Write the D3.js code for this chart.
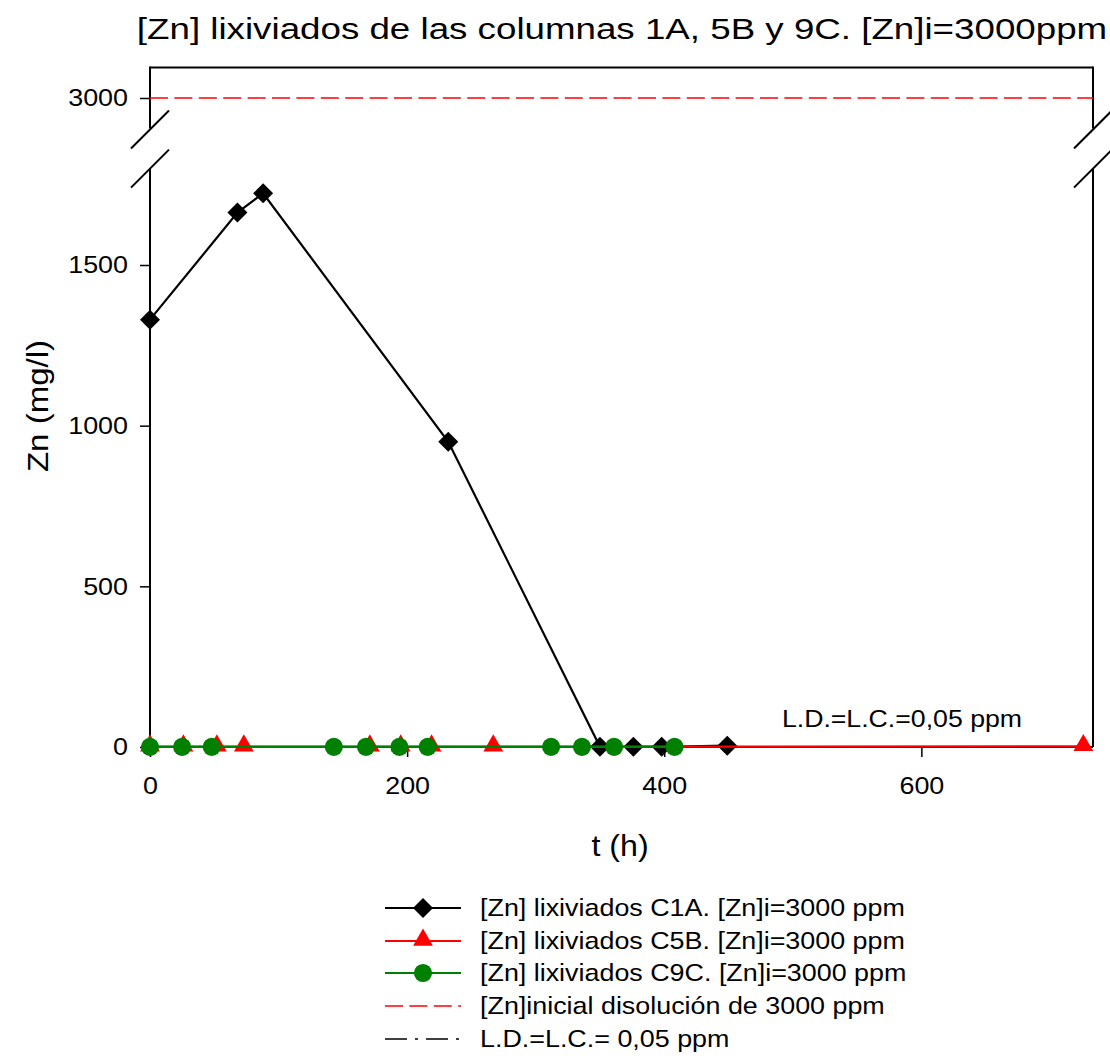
<!DOCTYPE html>
<html>
<head>
<meta charset="utf-8">
<script src="https://cdn.jsdelivr.net/npm/d3@7"></script>
<style>
  html, body { margin: 0; padding: 0; background: #fff; }
  svg text { font-family: "Liberation Sans", Arial, sans-serif; fill: #000; }
</style>
</head>
<body>
<svg id="chart" width="1110" height="1056"></svg>
<script>
// ---- data ----
const chartTitle = "[Zn] lixiviados de las columnas 1A, 5B y 9C. [Zn]i=3000ppm";
const xLabel = "t (h)";
const yLabel = "Zn (mg/l)";
const xTicks = [0, 200, 400, 600];
const yTicksLow = [0, 500, 1000, 1500];
const yTicksUp = [3000];

const c1aT  = [0, 68, 88, 232, 350, 376, 398, 449];
const c1aZn = [1330, 1663, 1723, 950, 0.5, 0.5, 0.5, 4];

const c5bT  = [0, 26, 52, 73, 171, 195, 219, 267, 726];
const c5bZn = [1, 1, 1, 1, 1, 1, 1, 1, 2];

const c9cT  = [0, 25, 48, 143, 168, 194, 216, 312, 336, 361, 408];
const c9cZn = [0.5, 0.5, 0.5, 0.5, 0.5, 0.5, 0.5, 0.5, 0.5, 0.5, 0.5];

const initialZn = 3000;     // [Zn] inicial disolución
const ldlc = 0.05;          // L.D.=L.C.
const ldText = "L.D.=L.C.=0,05 ppm";

const legendLabels = [
  "[Zn] lixiviados C1A. [Zn]i=3000 ppm",
  "[Zn] lixiviados C5B. [Zn]i=3000 ppm",
  "[Zn] lixiviados C9C. [Zn]i=3000 ppm",
  "[Zn]inicial disolución de 3000 ppm",
  "L.D.=L.C.= 0,05 ppm"
];

// ---- layout ----
const svg = d3.select("#chart");
const pLeft = 150, pRight = 1093, pTop = 67.5, pBottom = 747;
const lowTop = 168.6, upBottom = 128.5;

const x = d3.scaleLinear().domain([0, 733.5]).range([pLeft, pRight]);
const yLow = d3.scaleLinear().domain([0, 1800]).range([pBottom, lowTop]);
const yUp = d3.scaleLinear().domain([2905, 3095]).range([upBottom, pTop]);

// font sizes and horizontal stretch factors (reference uses a wide sans face)
const fTick = 24, sTick = 1.12;
const fAxis = 29, sAxisX = 1.11, sAxisY = 1.14;
const fTitle = 29.5, sTitle = 1.245;
const fLeg = 24, sLeg = 1.12;
const fLD = 23, sLD = 1.16;

function addText(parent, txt, px, py, size, sx, anchor, rot) {
  const r = rot ? ` rotate(${rot})` : "";
  return parent.append("text")
    .attr("transform", `translate(${px},${py})${r} scale(${sx},1)`)
    .attr("text-anchor", anchor || "start")
    .style("font-size", size + "px")
    .text(txt);
}

// frame lines
const g = svg.append("g");
g.append("line").attr("x1", pLeft).attr("x2", pRight).attr("y1", pTop).attr("y2", pTop)
  .attr("stroke", "#000").attr("stroke-width", 2);
g.append("line").attr("x1", pLeft).attr("x2", pRight).attr("y1", pBottom).attr("y2", pBottom)
  .attr("stroke", "#000").attr("stroke-width", 2);
[pLeft, pRight].forEach(ax => {
  g.append("line").attr("x1", ax).attr("x2", ax).attr("y1", pBottom).attr("y2", lowTop)
    .attr("stroke", "#000").attr("stroke-width", 2);
  g.append("line").attr("x1", ax).attr("x2", ax).attr("y1", upBottom).attr("y2", pTop - 1)
    .attr("stroke", "#000").attr("stroke-width", 2);
  [lowTop, upBottom + 1].forEach(cy => {
    g.append("line").attr("x1", ax - 19).attr("y1", cy + 19).attr("x2", ax + 19).attr("y2", cy - 19)
      .attr("stroke", "#000").attr("stroke-width", 2);
  });
});

// axes with d3 ticks (outward)
const yAxisLow = d3.axisLeft(yLow).tickValues(yTicksLow).tickSize(10).tickPadding(12).tickFormat(d3.format("d"));
const yAxisUp = d3.axisLeft(yUp).tickValues(yTicksUp).tickSize(10).tickPadding(12).tickFormat(d3.format("d"));
const xAxis = d3.axisBottom(x).tickValues(xTicks).tickSize(10).tickPadding(20).tickFormat(d3.format("d"));

function styleAxis(sel, isY) {
  sel.select(".domain").remove();
  sel.selectAll(".tick line").attr("stroke", "#000").attr("stroke-width", 1.5);
  const t = sel.selectAll(".tick text").style("font-size", fTick + "px")
    .style("font-family", "Liberation Sans, Arial, sans-serif").attr("fill", "#000")
    .attr("transform", `scale(${sTick},1)`);
  if (isY) t.attr("x", -22 / sTick);
}
svg.append("g").attr("transform", `translate(${pLeft},0)`).call(yAxisLow).call(styleAxis, true);
svg.append("g").attr("transform", `translate(${pLeft},0)`).call(yAxisUp).call(styleAxis, true);
svg.append("g").attr("transform", `translate(0,${pBottom})`).call(xAxis).call(styleAxis, false);

// reference lines
svg.append("line").attr("x1", pLeft).attr("x2", pRight)
  .attr("y1", yUp(initialZn)).attr("y2", yUp(initialZn))
  .attr("stroke", "#ff0000").attr("stroke-width", 1.3).attr("stroke-dasharray", "18,6.4");
svg.append("line").attr("x1", pLeft).attr("x2", pRight)
  .attr("y1", yLow(ldlc)).attr("y2", yLow(ldlc))
  .attr("stroke", "#000").attr("stroke-width", 1.3).attr("stroke-dasharray", "22,8,3,8");

// L.D. text
addText(svg, ldText, 1022, 727, fLD, sLD, "end");

// series
const series = [
  { t: c1aT, v: c1aZn, color: "#000000", sym: "diamond" },
  { t: c5bT, v: c5bZn, color: "#ff0000", sym: "triangle" },
  { t: c9cT, v: c9cZn, color: "#008000", sym: "circle" }
];
function symPath(s) {
  if (s === "diamond") return d3.symbol().type(d3.symbolSquare).size(200)();
  if (s === "triangle") return d3.symbol().type(d3.symbolTriangle).size(170)();
  return d3.symbol().type(d3.symbolCircle).size(260)();
}
function symTransform(s, px, py) {
  if (s === "diamond") return `translate(${px},${py}) rotate(45)`;
  if (s === "triangle") return `translate(${px},${py - 1})`;
  return `translate(${px},${py})`;
}
const line = d3.line().x(d => x(d[0])).y(d => yLow(d[1]));
series.forEach(s => {
  const pts = s.t.map((t, i) => [t, s.v[i]]);
  svg.append("path").datum(pts).attr("d", line).attr("fill", "none")
    .attr("stroke", s.color).attr("stroke-width", 2.2);
  svg.append("g").selectAll("path").data(pts).join("path")
    .attr("d", symPath(s.sym)).attr("fill", s.color)
    .attr("transform", d => symTransform(s.sym, x(d[0]), yLow(d[1])));
});

// titles
addText(svg, chartTitle, 622, 39, fTitle, sTitle, "middle");
addText(svg, xLabel, 620, 856, fAxis, sAxisX, "middle");
addText(svg, yLabel, 48, 406, fAxis, sAxisY, "middle", -90);

// legend
const legY = [908, 941, 973, 1006, 1039];
const legStyles = [
  { color: "#000", sym: "diamond", dash: null },
  { color: "#ff0000", sym: "triangle", dash: null },
  { color: "#008000", sym: "circle", dash: null },
  { color: "#ff0000", sym: null, dash: "18,6.4" },
  { color: "#000", sym: null, dash: "22,8,3,8" }
];
legendLabels.forEach((lab, i) => {
  const st = legStyles[i], yy = legY[i];
  svg.append("line").attr("x1", 385).attr("x2", 461).attr("y1", yy).attr("y2", yy)
    .attr("stroke", st.color).attr("stroke-width", st.dash ? 1.3 : 2.2)
    .attr("stroke-dasharray", st.dash);
  if (st.sym) {
    svg.append("path").attr("d", symPath(st.sym)).attr("fill", st.color)
      .attr("transform", symTransform(st.sym, 423, yy));
  }
  addText(svg, lab, 480, yy + 8, fLeg, sLeg, "start");
});
</script>
</body>
</html>
